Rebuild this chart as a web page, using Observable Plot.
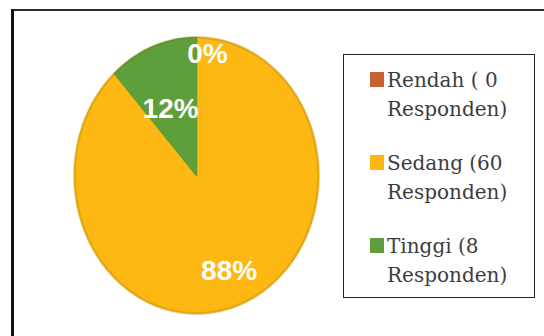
<!DOCTYPE html>
<html>
<head>
<meta charset="utf-8">
<script src="https://cdn.jsdelivr.net/npm/d3@7"></script>
<script src="https://cdn.jsdelivr.net/npm/@observablehq/plot@0.6"></script>
<style>
  body { margin: 0; background: #fff; }
  #wrap { position: relative; width: 544px; height: 336px; overflow: hidden; background: #fff; }
  #chart { position: absolute; left: 0; top: 0; }
  #frame { position: absolute; left: 11px; top: 9px; right: -20px; bottom: -20px;
           border-left: 3.5px solid #111; border-top: 2px solid #2a2a2a; pointer-events: none; }
  #legend { position: absolute; left: 343px; top: 54px; width: 192px; height: 244px; box-sizing: border-box;
            border: 1.5px solid #222; background: #fff; }
  .item { position: absolute; left: 0; }
  .sw { position: absolute; left: 26px; top: 6px; width: 14px; height: 15px; }
  .lab { position: absolute; left: 43px; top: 0; white-space: pre; line-height: 29px;
         font-family: "DejaVu Serif", serif; font-size: 20px; color: #3d3d3d; }
</style>
</head>
<body>
<div id="wrap">
  <div id="chart"></div>
  <div id="frame"></div>
  <div id="legend"></div>
</div>
<script>
// ---- data ----
const categories = ["Rendah", "Sedang", "Tinggi"];
const counts = [0, 60, 8];
const colors = ["#C9612E", "#FDB813", "#5E9E3B"];
const legendLabels = ["Rendah ( 0\nResponden)", "Sedang (60\nResponden)", "Tinggi (8\nResponden)"];

// ---- layout ----
const labelRadius = [0.88, 0.74, 0.52];
const labelDx = [11, 0, -3];

const total = d3.sum(counts);
let acc = 0;
const slices = categories.map((c, i) => {
  const a0 = acc / total * 2 * Math.PI;
  acc += counts[i];
  const a1 = acc / total * 2 * Math.PI;
  return {cat: c, a0, a1, pct: Math.round(counts[i] / total * 100) + "%", i};
});

const pts = [];
for (const s of slices) {
  if (s.a1 - s.a0 <= 0) continue;
  const n = Math.max(2, Math.ceil((s.a1 - s.a0) / (2 * Math.PI) * 240));
  pts.push({cat: s.cat, x: 0, y: 0});
  for (let k = 0; k <= n; k++) {
    const a = s.a0 + (s.a1 - s.a0) * k / n;
    pts.push({cat: s.cat, x: Math.sin(a), y: Math.cos(a)});
  }
  pts.push({cat: s.cat, x: 0, y: 0});
}

const labels = slices.map(s => {
  const m = (s.a0 + s.a1) / 2;
  const r = labelRadius[s.i];
  return {text: s.pct, x: Math.sin(m) * r, y: Math.cos(m) * r, dx: labelDx[s.i]};
});

const rim = d3.range(0, 361).map(d => ({x: Math.sin(d * Math.PI / 180), y: Math.cos(d * Math.PI / 180)}));

const chart = Plot.plot({
  width: 544,
  height: 336,
  margin: 0,
  x: {domain: [-1, 1], range: [74, 318], axis: null},
  y: {domain: [-1, 1], range: [313, 37], axis: null},
  color: {domain: categories, range: colors},
  marks: [
    Plot.line(pts, {x: "x", y: "y", z: "cat", fill: "cat", stroke: "cat", strokeWidth: 1.5, curve: "linear"}),
    Plot.line(rim, {x: "x", y: "y", stroke: "#8a6a00", strokeOpacity: 0.2, strokeWidth: 3, curve: "linear"}),
    ...labels.map(l =>
      Plot.text([l], {x: "x", y: "y", text: "text", dx: l.dx, fill: "white", fontSize: 28, fontWeight: "bold",
                      fontFamily: "Liberation Sans, Arial, sans-serif"}))
  ]
});
document.getElementById("chart").appendChild(chart);

// legend
const leg = d3.select("#legend");
categories.forEach((c, i) => {
  const it = leg.append("div").attr("class", "item").style("top", (11 + i * 83) + "px");
  it.append("div").attr("class", "sw").style("background", colors[i]);
  it.append("div").attr("class", "lab").text(legendLabels[i]);
});
</script>
</body>
</html>
